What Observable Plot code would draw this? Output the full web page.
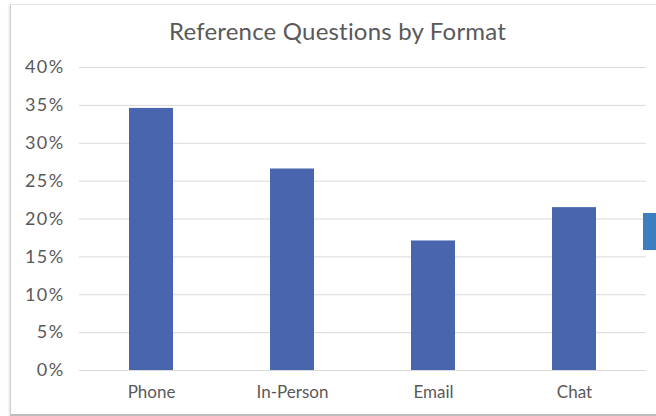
<!DOCTYPE html>
<html>
<head>
<meta charset="utf-8">
<script src="https://cdn.jsdelivr.net/npm/d3@7"></script>
<script src="https://cdn.jsdelivr.net/npm/@observablehq/plot@0.6"></script>
<style>
  html, body { margin: 0; padding: 0; background: #ffffff; }
  body { width: 656px; height: 416px; position: relative; overflow: hidden; font-family: Lato, "Open Sans", sans-serif; }
  #frame { position: absolute; left: 10px; top: 4px; width: 700px; height: 409px;
           border-left: 1px solid #cfcfcf; border-top: 1px solid #e4e4e4; border-bottom: 2px solid #bdbdbd;
           box-shadow: -1px 1px 2px rgba(0,0,0,0.12); background: #fff; }
  #title { position: absolute; left: 0; top: 16px; width: 675px; text-align: center;
           font-size: 24px; color: #595959; letter-spacing: 0.2px; }
  #chart { position: absolute; left: 0; top: 50px; }
  #chart svg g[aria-label="y-axis tick label"] text { letter-spacing: 1.4px; }
  #tab { position: absolute; left: 643px; top: 213px; width: 13px; height: 37px; background: #3c7fc0; }
</style>
</head>
<body>
<div id="frame"></div>
<div id="title">Reference Questions by Format</div>
<div id="chart"></div>
<div id="tab"></div>
<script>
const categories = ["Phone", "In-Person", "Email", "Chat"];
const shares = [0.346, 0.266, 0.171, 0.215];
const yTicks = [0, 0.05, 0.10, 0.15, 0.20, 0.25, 0.30, 0.35, 0.40];

const data = categories.map((c, i) => ({format: c, share: shares[i]}));

const chart = Plot.plot({
  width: 656,
  height: 366,
  marginTop: 17,
  marginBottom: 46,
  marginLeft: 79,
  marginRight: 10,
  style: {fontFamily: "Lato, 'Open Sans', sans-serif", fontSize: "17px", color: "#595959", background: "transparent"},
  x: {domain: categories, paddingInner: 0.69, paddingOuter: 0.345, label: null},
  y: {domain: [0, 0.4], label: null},
  marks: [
    Plot.gridY(yTicks, {stroke: "#d9d9d9", strokeOpacity: 1, strokeWidth: 1}),
    Plot.barY(data, {x: "format", y: "share", fill: "#4865ad"}),
    Plot.axisY(yTicks, {tickSize: 0, tickPadding: 15, tickFormat: d3.format(".0%"), label: null, fill: "#595959", fontSize: 18}),
    Plot.axisX({tickSize: 0, tickPadding: 15, label: null, fill: "#595959", fontSize: 17})
  ]
});
document.getElementById("chart").appendChild(chart);
</script>
</body>
</html>
